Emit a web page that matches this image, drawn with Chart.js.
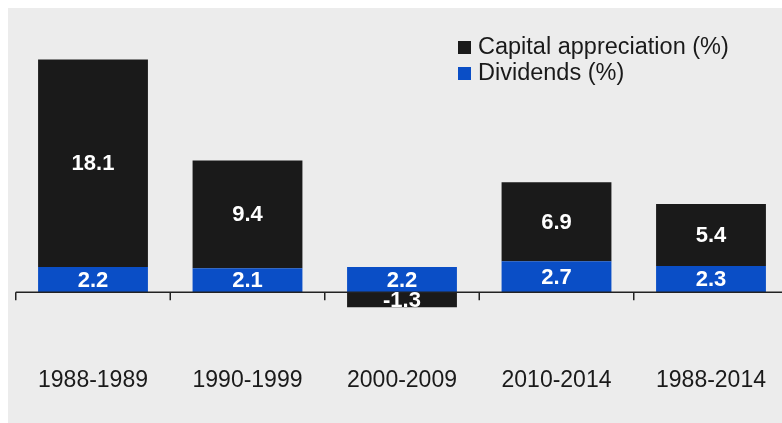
<!DOCTYPE html>
<html>
<head>
<meta charset="utf-8">
<script src="https://cdn.jsdelivr.net/npm/chart.js@4.4.0/dist/chart.umd.min.js"></script>
<style>
    html, body { margin: 0; padding: 0; background: #ffffff; overflow: hidden; }
    #painel {
        position: absolute;
        left: 8px;
        top: 8px;
        width: 790px;
        height: 415px;
        background: #ececec;
    }
</style>
</head>
<body>
<div id="painel">
    <canvas id="grafico-retorno" width="790" height="415"></canvas>
</div>
<script>
// Períodos e retornos médios anuais
let periodos = ["1988-1989", "1990-1999", "2000-2009", "2010-2014", "1988-2014"];
let dividendos = [2.2, 2.1, 2.2, 2.7, 2.3];
let valorizacao = [18.1, 9.4, -1.3, 6.9, 5.4];

let corPreto = "#1a1a1a";
let corAzul = "#0a4ec6";

// Linha do zero com marcações entre as categorias
const linhaZero = {
    id: "linhaZero",
    afterDatasetsDraw(chart) {
        const ctx = chart.ctx;
        const x = chart.scales.x;
        const y = chart.scales.y;
        const y0 = y.getPixelForValue(0);
        const passo = x.getPixelForValue(1) - x.getPixelForValue(0);
        ctx.save();
        ctx.strokeStyle = "#222222";
        ctx.lineWidth = 1.5;
        ctx.beginPath();
        ctx.moveTo(x.getPixelForValue(0) - passo / 2, y0);
        ctx.lineTo(chart.width, y0);
        for (let i = 0; i < periodos.length; i++) {
            const xi = x.getPixelForValue(i) - passo / 2;
            ctx.moveTo(xi, y0);
            ctx.lineTo(xi, y0 + 8);
        }
        ctx.stroke();
        ctx.restore();
    }
};

// Valores escritos dentro de cada segmento
const rotulosValores = {
    id: "rotulosValores",
    afterDatasetsDraw(chart) {
        const ctx = chart.ctx;
        ctx.save();
        ctx.fillStyle = "#ffffff";
        ctx.font = "bold 22px 'Liberation Sans', Arial, sans-serif";
        ctx.textAlign = "center";
        ctx.textBaseline = "middle";
        chart.data.datasets.forEach((ds, d) => {
            chart.getDatasetMeta(d).data.forEach((barra, i) => {
                const { x, y, base } = barra.getProps(["x", "y", "base"], true);
                ctx.fillText(ds.data[i].toFixed(1), x, (y + base) / 2 + 1);
            });
        });
        ctx.restore();
    }
};

// Legenda em duas linhas no canto superior direito
const legendaCanto = {
    id: "legendaCanto",
    afterDraw(chart) {
        const ctx = chart.ctx;
        const itens = [chart.data.datasets[1], chart.data.datasets[0]];
        ctx.save();
        ctx.font = "23.5px 'Liberation Sans', Arial, sans-serif";
        ctx.textBaseline = "middle";
        ctx.textAlign = "left";
        itens.forEach((ds, i) => {
            const yc = 39 + i * 26;
            ctx.fillStyle = ds.backgroundColor;
            ctx.fillRect(450, yc - 6, 13, 13);
            ctx.fillStyle = corPreto;
            ctx.fillText(ds.label, 470, yc + 1);
        });
        ctx.restore();
    }
};

let dadosRetorno = {
    labels: periodos,
    datasets: [{
        label: "Dividends (%)",
        data: dividendos,
        backgroundColor: corAzul,
        barPercentage: 0.711,
        categoryPercentage: 1.0
    },
    {
        label: "Capital appreciation (%)",
        data: valorizacao,
        backgroundColor: corPreto,
        barPercentage: 0.711,
        categoryPercentage: 1.0
    }]
};

const configRetorno = {
    type: "bar",
    data: dadosRetorno,
    options: {
        responsive: false,
        animation: false,
        layout: {
            padding: { left: 7.75, right: 9.75, top: 32, bottom: 26 }
        },
        scales: {
            x: {
                stacked: true,
                grid: { display: false },
                border: { display: false },
                ticks: {
                    padding: 3,
                    color: corPreto,
                    font: { family: "'Liberation Sans', Arial, sans-serif", size: 23 }
                }
            },
            y: {
                stacked: true,
                display: false,
                min: -5.5,
                max: 22
            }
        },
        plugins: {
            legend: { display: false },
            tooltip: { enabled: false }
        }
    },
    plugins: [linhaZero, rotulosValores, legendaCanto]
};

let graficoRetorno = new Chart(
    document.getElementById("grafico-retorno"),
    configRetorno
);
</script>
</body>
</html>
